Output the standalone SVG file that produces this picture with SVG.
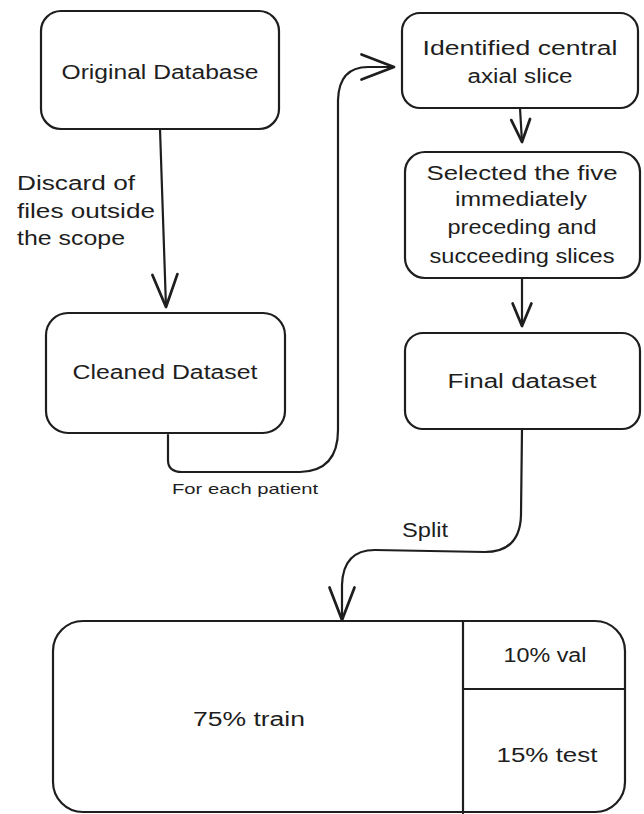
<svg xmlns="http://www.w3.org/2000/svg" width="644" height="814" viewBox="0 0 644 814">
<style>
.box{fill:#ffffff;stroke:#1e1e1e;stroke-width:2.2;stroke-linejoin:round}
.ln{fill:none;stroke:#1e1e1e;stroke-width:2.2;stroke-linecap:round;stroke-linejoin:round}
.t{font-family:"Liberation Sans",Arial,sans-serif;font-size:20px;fill:#1e1e1e}
.c{text-anchor:middle}
.s{font-size:15px}
</style>
<defs>
<marker id="ah" markerUnits="userSpaceOnUse" markerWidth="40" markerHeight="40" refX="0" refY="0" viewBox="-30 -15 32 30" orient="auto" overflow="visible">
<path d="M-26,-10 L0,0 L-26,10" fill="none" stroke="#1e1e1e" stroke-width="2.2" stroke-linecap="round" stroke-linejoin="round"/>
</marker>
<marker id="ahs" markerUnits="userSpaceOnUse" markerWidth="30" markerHeight="30" refX="0" refY="0" viewBox="-22 -11 24 22" orient="auto" overflow="visible">
<path d="M-18,-7.5 L0,0 L-18,7.5" fill="none" stroke="#1e1e1e" stroke-width="2.2" stroke-linecap="round" stroke-linejoin="round"/>
</marker>
</defs>
<rect width="644" height="814" fill="#ffffff"/>
<g id="connectors">
<path class="ln" d="M160,129 L166,307" marker-end="url(#ah)"/>
<path class="ln" d="M168,435 L168,460 Q168,472 182,472 L300,472 Q338,471 338,430 L338,100 Q339,67 368,67 L394,67" marker-end="url(#ah)"/>
<path class="ln" d="M520,108 L522,142" marker-end="url(#ahs)"/>
<path class="ln" d="M522,279 L522,326" marker-end="url(#ahs)"/>
<path class="ln" d="M522,429 L521,515 Q520,552 485,552 L375,550 Q343,550 342,585 L342,620" marker-end="url(#ah)"/>
<text class="t" x="17" y="190" textLength="118" lengthAdjust="spacingAndGlyphs">Discard of</text>
<text class="t" x="17" y="218" textLength="138" lengthAdjust="spacingAndGlyphs">files outside</text>
<text class="t" x="17" y="245" textLength="108" lengthAdjust="spacingAndGlyphs">the scope</text>
<text class="t s" x="172" y="494" textLength="146" lengthAdjust="spacingAndGlyphs">For each patient</text>
<text class="t" x="402" y="537" textLength="46" lengthAdjust="spacingAndGlyphs">Split</text>
</g>
<g id="original-database">
<rect class="box" x="41" y="11" width="238" height="118" rx="20"/>
<text class="t c" x="160" y="79" textLength="197" lengthAdjust="spacingAndGlyphs">Original Database</text>
</g>
<g id="cleaned-dataset">
<rect class="box" x="46" y="313" width="239" height="120" rx="22"/>
<text class="t c" x="165" y="379" textLength="185" lengthAdjust="spacingAndGlyphs">Cleaned Dataset</text>
</g>
<g id="identified-central-axial-slice">
<rect class="box" x="402" y="13" width="236" height="95" rx="18"/>
<text class="t c" x="520" y="55" textLength="195" lengthAdjust="spacingAndGlyphs">Identified central</text>
<text class="t c" x="520" y="83" textLength="105" lengthAdjust="spacingAndGlyphs">axial slice</text>
</g>
<g id="selected-slices">
<rect class="box" x="405" y="152" width="235" height="126" rx="20"/>
<text class="t c" x="522" y="180" textLength="191" lengthAdjust="spacingAndGlyphs">Selected the five</text>
<text class="t c" x="521" y="206" textLength="132" lengthAdjust="spacingAndGlyphs">immediately</text>
<text class="t c" x="522" y="234" textLength="149" lengthAdjust="spacingAndGlyphs">preceding and</text>
<text class="t c" x="522" y="263" textLength="185" lengthAdjust="spacingAndGlyphs">succeeding slices</text>
</g>
<g id="final-dataset">
<rect class="box" x="405" y="333" width="235" height="96" rx="18"/>
<text class="t c" x="522" y="388" textLength="149" lengthAdjust="spacingAndGlyphs">Final dataset</text>
</g>
<g id="split-box">
<rect class="box" x="53" y="621" width="572" height="191" rx="30"/>
<path class="ln" d="M463,621 L463,813 M463,689 L625,689"/>
<text class="t c" x="249" y="726" textLength="112" lengthAdjust="spacingAndGlyphs">75% train</text>
<text class="t c" x="545" y="662" textLength="83" lengthAdjust="spacingAndGlyphs">10% val</text>
<text class="t c" x="547" y="762" textLength="101" lengthAdjust="spacingAndGlyphs">15% test</text>
</g>
</svg>
